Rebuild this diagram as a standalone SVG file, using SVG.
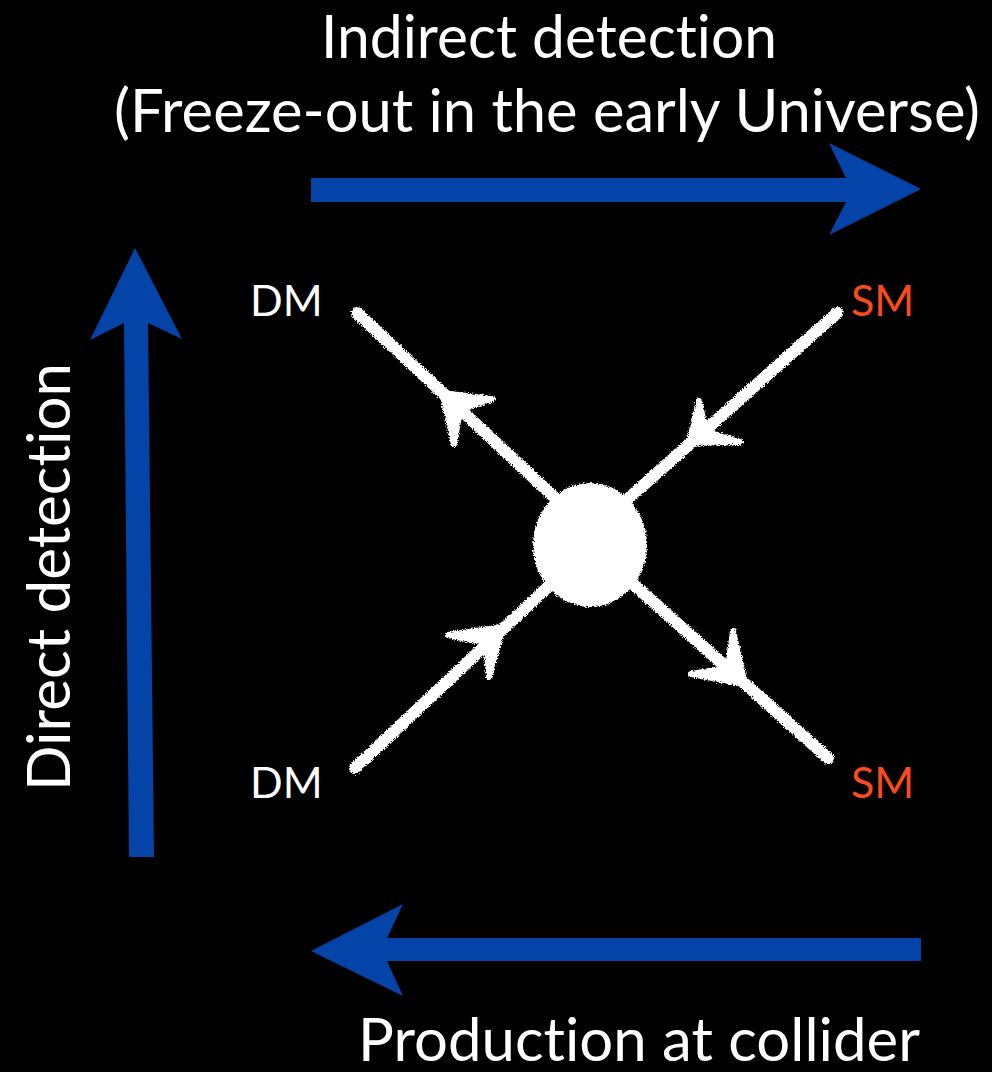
<svg xmlns="http://www.w3.org/2000/svg" width="992" height="1072" viewBox="0 0 992 1072">
  <defs>
    <filter id="chalk" x="-10%" y="-10%" width="120%" height="120%">
      <feTurbulence type="fractalNoise" baseFrequency="0.9" numOctaves="2" seed="3" result="noise"/>
      <feDisplacementMap in="SourceGraphic" in2="noise" scale="5" xChannelSelector="R" yChannelSelector="G"/>
    </filter>
    <style>
      .title { font-family: "Lato", "Liberation Sans", sans-serif; font-size: 60px; fill: #ffffff; font-variant-ligatures: none; font-feature-settings: "liga" 0, "clig" 0; }
      .lbl { font-family: "Lato", "Liberation Sans", sans-serif; font-size: 43px; }
      .dm { fill: #ffffff; }
      .sm { fill: #fb4a1c; }
      .blue { fill: #0444a8; }
      .fl { stroke: #ffffff; stroke-width: 12; stroke-linecap: round; fill: none; }
      .fh { fill: #ffffff; stroke: #ffffff; stroke-width: 6; stroke-linejoin: round; }
    </style>
  </defs>
  <rect x="0" y="0" width="992" height="1072" fill="#000000"/>

  <g id="labels">
    <text class="title" x="549" y="58" text-anchor="middle" textLength="456" lengthAdjust="spacingAndGlyphs">Indirect detection</text>
    <text class="title" x="547" y="132" text-anchor="middle" textLength="866" lengthAdjust="spacingAndGlyphs">(Freeze-out in the early Universe)</text>
    <text class="title" x="639" y="1061" text-anchor="middle" textLength="562" lengthAdjust="spacingAndGlyphs">Production at collider</text>
    <text class="title" transform="translate(70,577) rotate(-90)" x="0" y="0" text-anchor="middle" textLength="428" lengthAdjust="spacingAndGlyphs">Direct detection</text>
  </g>

  <g id="connectors">
    <polygon id="arrow-top" class="blue" points="311,178 846,178 829,143 921,189 829,235 846,202 311,202"/>
    <polygon id="arrow-bottom" class="blue" points="921,938 387,938 403,904 311,951 403,996 387,961 921,961"/>
    <polygon id="arrow-left" class="blue" points="129,857 124,323 90,340 135,248 182,339 148,323 154,857"/>
  </g>

  <g id="feynman" filter="url(#chalk)">
    <g id="line-dm-top">
      <line class="fl" x1="357" y1="313" x2="552" y2="495"/>
      <polygon class="fh" points="442,393 492,399 460,410 454,444"/>
    </g>
    <g id="line-sm-top">
      <line class="fl" x1="837" y1="313" x2="630" y2="497"/>
      <polygon class="fh" points="689,443 699,401 706,432 740,442"/>
    </g>
    <g id="line-dm-bottom">
      <line class="fl" x1="355" y1="768" x2="552" y2="583"/>
      <polygon class="fh" points="503,627 448,635 486,643 489,677"/>
    </g>
    <g id="line-sm-bottom">
      <line class="fl" x1="632" y1="583" x2="828" y2="758"/>
      <polygon class="fh" points="745,684 733,631 728,668 691,674"/>
    </g>
    <g id="vertex">
      <ellipse cx="590" cy="545" rx="57" ry="62" fill="#ffffff"/>
    </g>
  </g>

  <g id="node-dm-top"><text class="lbl dm" x="250" y="316">DM</text></g>
  <g id="node-sm-top"><text class="lbl sm" x="851" y="316">SM</text></g>
  <g id="node-dm-bottom"><text class="lbl dm" x="250" y="798">DM</text></g>
  <g id="node-sm-bottom"><text class="lbl sm" x="851" y="798">SM</text></g>
</svg>
